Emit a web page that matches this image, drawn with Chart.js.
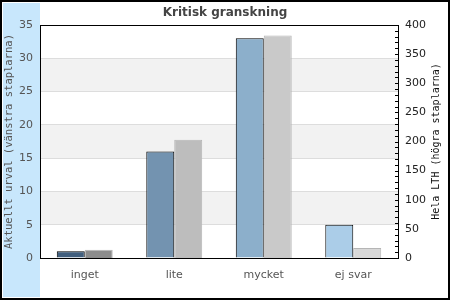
<!DOCTYPE html>
<html>
<head>
<meta charset="utf-8">
<script src="https://cdn.jsdelivr.net/npm/chart.js@4/dist/chart.umd.min.js"></script>
<style>
  html, body { margin: 0; padding: 0; background: #fff; }
  #chart1 { display: block; }
</style>
</head>
<body>
<canvas id="chart1" width="450" height="300"></canvas>
<script>
// data
var categories = ["inget", "lite", "mycket", "ej svar"];
var urval = [1, 16, 33, 5];          // vänstra staplarna
var helaLth = [14, 203, 382, 17];    // högra staplarna
var leftTicks = [0, 5, 10, 15, 20, 25, 30, 35];
var rightTicks = [0, 50, 100, 150, 200, 250, 300, 350, 400];

var blueColors = ["#415f7e", "#7393b0", "#8cafcb", "#abcde8"];
var grayColors = ["#8c8c8c", "#bdbdbd", "#c9c9c9", "#d8d8d8"];

Chart.defaults.font.family = "'DejaVu Sans', Verdana, sans-serif";

// bakgrund, band och ram
var decoPlugin = {
	id: "deco",
	beforeDraw: function(chart) {
		var ctx = chart.ctx,
			area = chart.chartArea,
			y = chart.scales.y;
		ctx.save();
		ctx.fillStyle = "#fff";
		ctx.fillRect(0, 0, chart.width, chart.height);
		ctx.fillStyle = "#c8e7fc";
		ctx.fillRect(3, 3, 37, 294);
		// varannan rand grå
		ctx.fillStyle = "#f2f2f2";
		for (var i = 1; i < leftTicks.length - 1; i += 2) {
			var yTop = y.getPixelForValue(leftTicks[i + 1]),
				yBot = y.getPixelForValue(leftTicks[i]);
			ctx.fillRect(area.left, yTop, area.right - area.left, yBot - yTop);
		}
		ctx.restore();
	},
	afterDraw: function(chart) {
		var ctx = chart.ctx,
			area = chart.chartArea,
			y1 = chart.scales.y1,
			midY = (area.top + area.bottom) / 2;
		ctx.save();
		ctx.strokeStyle = "#000";
		ctx.lineWidth = 1;
		// övre kant
		ctx.beginPath();
		ctx.moveTo(area.left, Math.round(area.top) + 0.5);
		ctx.lineTo(area.right + 1, Math.round(area.top) + 0.5);
		ctx.stroke();
		// små streck på högra axeln
		ctx.beginPath();
		for (var v = 0; v <= 400; v += 10) {
			var py = Math.round(y1.getPixelForValue(v)) + 0.5;
			ctx.moveTo(area.right - 3, py);
			ctx.lineTo(area.right, py);
		}
		ctx.stroke();
		// axeltitlar
		ctx.textAlign = "center";
		ctx.textBaseline = "middle";
		ctx.save();
		ctx.translate(9, midY);
		ctx.rotate(-Math.PI / 2);
		ctx.fillStyle = "#555";
		ctx.font = "10.5px 'DejaVu Sans Mono', monospace";
		ctx.fillText("Aktuellt urval (vänstra staplarna)", 0, 0);
		ctx.restore();
		ctx.save();
		ctx.translate(436, midY);
		ctx.rotate(-Math.PI / 2);
		ctx.fillStyle = "#111";
		ctx.font = "10px 'DejaVu Sans Mono', monospace";
		ctx.fillText("Hela LTH (högra staplarna)", 0, 0);
		ctx.restore();
		// yttre ram
		ctx.lineWidth = 2;
		ctx.strokeRect(1, 1, chart.width - 2, chart.height - 2);
		ctx.restore();
	}
};

var ctx = document.getElementById("chart1").getContext("2d");
var chart = new Chart(ctx, {
	type: "bar",
	data: {
		labels: categories,
		datasets: [{
			label: "Aktuellt urval",
			data: urval,
			yAxisID: "y",
			backgroundColor: blueColors,
			borderColor: "#000",
			borderWidth: 1
		}, {
			label: "Hela LTH",
			data: helaLth,
			yAxisID: "y1",
			backgroundColor: grayColors,
			borderColor: "#b5b5b5",
			borderWidth: 1
		}]
	},
	options: {
		responsive: false,
		animation: false,
		datasets: {
			bar: { categoryPercentage: 0.625, barPercentage: 1 }
		},
		layout: { padding: 0 },
		plugins: {
			legend: { display: false },
			tooltip: { enabled: false },
			title: {
				display: true,
				text: "Kritisk granskning",
				color: "#444",
				font: { size: 12, weight: "bold", lineHeight: "14px" },
				padding: { top: 6, bottom: 5 }
			}
		},
		scales: {
			x: {
				grid: { display: false, drawTicks: false },
				border: { color: "#000", width: 1 },
				ticks: { color: "#555", font: { size: 11 }, padding: 11 },
				afterFit: function(s) { s.height = 42; }
			},
			y: {
				position: "left",
				min: 0,
				max: 35,
				afterBuildTicks: function(s) { s.ticks = leftTicks.map(function(v) { return { value: v }; }); },
				grid: { color: "#dddddd", drawTicks: false },
				border: { color: "#000", width: 1 },
				ticks: { color: "#555", font: { size: 11 }, padding: 7 },
				afterFit: function(s) { s.width = 40; }
			},
			y1: {
				position: "right",
				min: 0,
				max: 400,
				afterBuildTicks: function(s) { s.ticks = rightTicks.map(function(v) { return { value: v }; }); },
				grid: { display: false, drawTicks: false },
				border: { color: "#000", width: 1 },
				ticks: { color: "#222", font: { size: 11 }, padding: 7 },
				afterFit: function(s) { s.width = 52; }
			}
		}
	},
	plugins: [decoPlugin]
});
</script>
</body>
</html>
